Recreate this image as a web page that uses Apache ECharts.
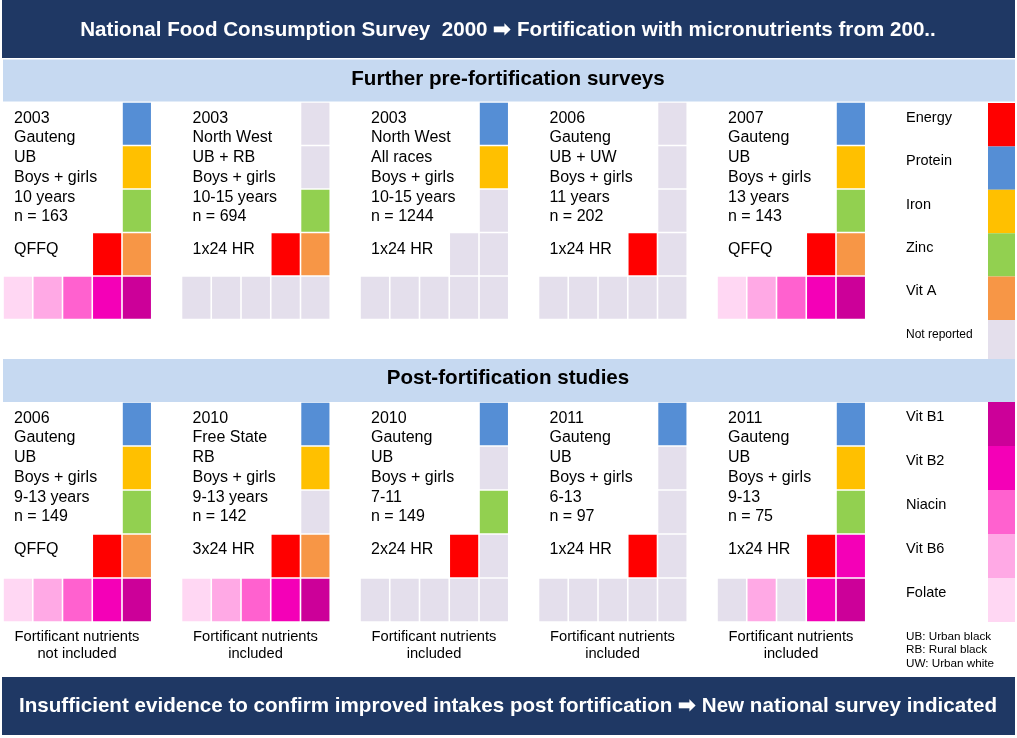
<!DOCTYPE html>
<html>
<head>
<meta charset="utf-8">
<script src="https://cdn.jsdelivr.net/npm/echarts@6/dist/echarts.min.js"></script>
<style>
  html, body { margin: 0; padding: 0; background: #fff; }
  #chart { width: 1017px; height: 738px; }
</style>
</head>
<body>
<div id="chart"></div>
<script>
// nutrients and their colours
const nutrients = ['Energy', 'Protein', 'Iron', 'Zinc', 'Vit A', 'Vit B1', 'Vit B2', 'Niacin', 'Vit B6', 'Folate']
const nutrientColors = ['#FF0000', '#558ED5', '#FFC000', '#92D050', '#F79646', '#CC0099', '#F400B7', '#FF61CF', '#FFA9E5', '#FFD7F3']
const notReportedColor = '#E4DFEC'
// where each nutrient sits in a study block (column, row)
const slotCol = [3, 4, 4, 4, 4, 4, 3, 2, 1, 0]
const slotRow = [3, 0, 1, 2, 3, 4, 4, 4, 4, 4]

// pre-fortification surveys
const preYears = ['2003', '2003', '2003', '2006', '2007']
const preRegions = ['Gauteng', 'North West', 'North West', 'Gauteng', 'Gauteng']
const preGroups = ['UB', 'UB + RB', 'All races', 'UB + UW', 'UB']
const preAges = ['10 years', '10-15 years', '10-15 years', '11 years', '13 years']
const preN = [163, 694, 1244, 202, 143]
const preMethods = ['QFFQ', '1x24 HR', '1x24 HR', '1x24 HR', 'QFFQ']
// colour shown per nutrient (index into nutrientColors), -1 = not reported
const preCells = [
  [0, 1, 2, 3, 4, 5, 6, 7, 8, 9],
  [0, -1, -1, 3, 4, -1, -1, -1, -1, -1],
  [-1, 1, 2, -1, -1, -1, -1, -1, -1, -1],
  [0, -1, -1, -1, -1, -1, -1, -1, -1, -1],
  [0, 1, 2, 3, 4, 5, 6, 7, 8, 9],
]

// post-fortification studies
const postYears = ['2006', '2010', '2010', '2011', '2011']
const postRegions = ['Gauteng', 'Free State', 'Gauteng', 'Gauteng', 'Gauteng']
const postGroups = ['UB', 'RB', 'UB', 'UB', 'UB']
const postAges = ['9-13 years', '9-13 years', '7-11', '6-13', '9-13']
const postN = [149, 142, 149, 97, 75]
const postMethods = ['QFFQ', '3x24 HR', '2x24 HR', '1x24 HR', '1x24 HR']
const postNotes = ['not included', 'included', 'included', 'included', 'included']
const postCells = [
  [0, 1, 2, 3, 4, 5, 6, 7, 8, 9],
  [0, 1, 2, -1, 4, 5, 6, 7, 8, 9],
  [0, 1, -1, 3, -1, -1, -1, -1, -1, -1],
  [0, 1, -1, -1, -1, -1, -1, -1, -1, -1],
  [0, 1, 2, 3, 6, 5, 6, -1, 8, -1],
]

// legends
const legendTop = ['Energy', 'Protein', 'Iron', 'Zinc', 'Vit A', 'Not reported']
const legendTopCells = [0, 1, 2, 3, 4, -1]
const legendBottom = ['Vit B1', 'Vit B2', 'Niacin', 'Vit B6', 'Folate']
const legendBottomCells = [5, 6, 7, 8, 9]
const abbreviations = ['UB: Urban black', 'RB: Rural black', 'UW: Urban white']

const FONT = '"Liberation Sans", Arial, sans-serif'
const PANEL = 178.5

function cellData(cells) {
  const out = []
  cells.forEach((study, k) => {
    study.forEach((c, j) => out.push([6 * k + slotCol[j], slotRow[j], c]))
  })
  return out
}

function makeCell(inset) {
  return function (params, api) {
    const c = api.coord([api.value(0), api.value(1)])
    const s = api.size([1, 1])
    const k = api.value(2)
    return {
      type: 'rect',
      shape: { x: c[0] - s[0] / 2 + inset, y: c[1] - s[1] / 2 + inset, width: s[0] - 2 * inset, height: s[1] - 2 * inset },
      style: { fill: k < 0 ? notReportedColor : nutrientColors[k] },
    }
  }
}

function label(x, y, str, font, extra) {
  return { type: 'text', x: x, y: y, z: 101, style: Object.assign({ text: str, fill: '#000', font: font + ' ' + FONT, align: 'left', verticalAlign: 'top' }, extra || {}) }
}

// banners
const graphics = [
  { type: 'rect', z: 100, shape: { x: 2, y: 0, width: 1013, height: 58 }, style: { fill: '#1F3864' } },
  { type: 'rect', z: 100, shape: { x: 3, y: 59.5, width: 1012, height: 42 }, style: { fill: '#C6D9F1' } },
  { type: 'rect', z: 100, shape: { x: 3, y: 359, width: 1012, height: 43 }, style: { fill: '#C6D9F1' } },
  { type: 'rect', z: 100, shape: { x: 2, y: 677, width: 1013, height: 58 }, style: { fill: '#1F3864' } },
]
const mid = { align: 'center', verticalAlign: 'middle' }
graphics.push(label(508, 30, 'National Food Consumption Survey  2000 \u27A1 Fortification with micronutrients from 200..', 'bold 20.6px', Object.assign({ fill: '#fff' }, mid)))
graphics.push(label(508, 79, 'Further pre-fortification surveys', 'bold 20.6px', mid))
graphics.push(label(508, 378, 'Post-fortification studies', 'bold 20.6px', mid))
graphics.push(label(508, 706, 'Insufficient evidence to confirm improved intakes post fortification \u27A1 New national survey indicated', 'bold 20.6px', Object.assign({ fill: '#fff' }, mid)))

for (let k = 0; k < 5; k++) {
  const x = 14 + PANEL * k
  graphics.push(label(x, 108.5, [preYears[k], preRegions[k], preGroups[k], 'Boys + girls', preAges[k], 'n = ' + preN[k]].join('\n'), '16px', { lineHeight: 19.7 }))
  graphics.push(label(x, 239.5, preMethods[k], '16px', { lineHeight: 19.7 }))
  graphics.push(label(x, 408.5, [postYears[k], postRegions[k], postGroups[k], 'Boys + girls', postAges[k], 'n = ' + postN[k]].join('\n'), '16px', { lineHeight: 19.7 }))
  graphics.push(label(x, 539.5, postMethods[k], '16px', { lineHeight: 19.7 }))
  graphics.push(label(77 + PANEL * k, 628.5, 'Fortificant nutrients\n' + postNotes[k], '14.7px', { lineHeight: 17.2, align: 'center' }))
}
graphics.push(label(906, 629.5, abbreviations.join('\n'), '11.7px', { lineHeight: 13.6 }))

const legendLabel = {
  show: true, align: 'left', margin: 82, color: '#000', fontSize: 14.5, fontFamily: FONT,
  padding: [0, 0, 14, 0],
  formatter: (v) => v === 'Not reported' ? '{s|' + v + '}' : v,
  rich: { s: { fontSize: 12, fontFamily: FONT, color: '#000' } },
}

const chart = echarts.init(document.getElementById('chart'))
chart.setOption({
  animation: false,
  backgroundColor: '#fff',
  graphic: { elements: graphics },
  grid: [
    { left: 3, top: 102, width: 862.75, height: 217.5 },
    { left: 3, top: 402, width: 862.75, height: 220 },
    { left: 988, top: 103, width: 27, height: 260.4 },
    { left: 988, top: 402, width: 27, height: 220 },
  ],
  xAxis: [
    { gridIndex: 0, type: 'value', min: -0.5, max: 28.5, show: false },
    { gridIndex: 1, type: 'value', min: -0.5, max: 28.5, show: false },
    { gridIndex: 2, type: 'category', data: ['c'], show: false },
    { gridIndex: 3, type: 'category', data: ['c'], show: false },
  ],
  yAxis: [
    { gridIndex: 0, type: 'value', min: -0.5, max: 4.5, inverse: true, show: false },
    { gridIndex: 1, type: 'value', min: -0.5, max: 4.5, inverse: true, show: false },
    { gridIndex: 2, type: 'category', data: legendTop, inverse: true, axisLine: { show: false }, axisTick: { show: false }, axisLabel: legendLabel },
    { gridIndex: 3, type: 'category', data: legendBottom, inverse: true, axisLine: { show: false }, axisTick: { show: false }, axisLabel: legendLabel },
  ],
  series: [
    { type: 'custom', xAxisIndex: 0, yAxisIndex: 0, renderItem: makeCell(0.8), data: cellData(preCells) },
    { type: 'custom', xAxisIndex: 1, yAxisIndex: 1, renderItem: makeCell(0.8), data: cellData(postCells) },
    { type: 'custom', xAxisIndex: 2, yAxisIndex: 2, renderItem: makeCell(0), data: legendTopCells.map((c, i) => [0, i, c]) },
    { type: 'custom', xAxisIndex: 3, yAxisIndex: 3, renderItem: makeCell(0), data: legendBottomCells.map((c, i) => [0, i, c]) },
  ],
})
</script>
</body>
</html>
